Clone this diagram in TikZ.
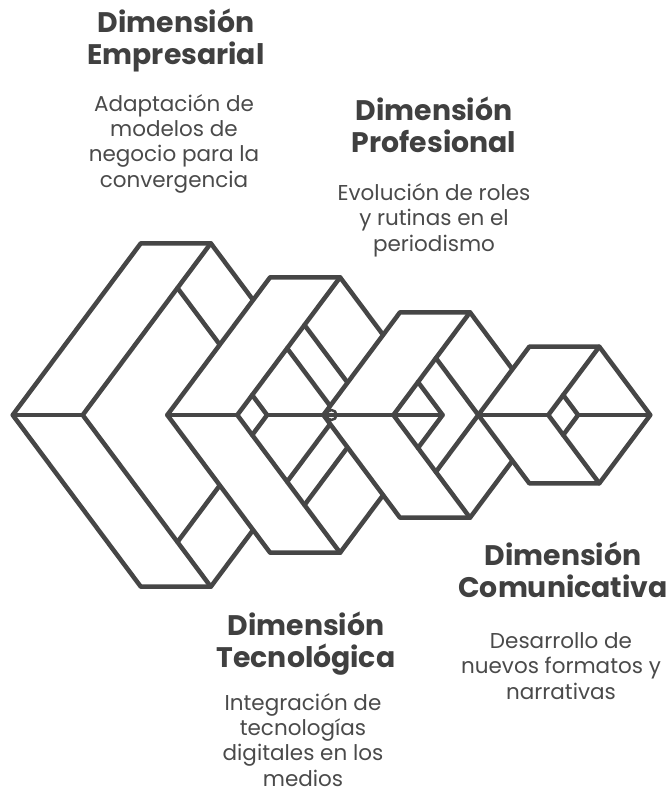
\documentclass[tikz,border=0pt]{standalone}
\usepackage{fontspec}
\setmainfont{Poppins}
\definecolor{linegray}{HTML}{464646}
\definecolor{titlegray}{HTML}{404040}
\definecolor{bodygray}{HTML}{4A4A4A}
\begin{document}
\begin{tikzpicture}[x=1pt,y=-1pt,
  face/.style={fill=white, draw=linegray, line width=4.5pt, line join=round},
  edge/.style={draw=linegray, line width=4.5pt, line join=round, line cap=round},
  title/.style={font=\fontsize{28.3}{32}\selectfont\bfseries, text=titlegray, align=center, inner sep=0pt, anchor=base},
  body/.style={font=\fontsize{21.5}{25.3}\selectfont, text=bodygray, align=center, inner sep=0pt, anchor=base}]
\useasboundingbox (0,0) rectangle (672,793);

% ---- block 1 (largest) ----
\coordinate (s1L)  at (12.7,415);
\coordinate (s1TL) at (140.8,243.3);
\coordinate (s1TR) at (210.8,243.3);
\coordinate (s1R)  at (338.9,415);
\coordinate (s1BR) at (210.8,586.7);
\coordinate (s1BL) at (140.8,586.7);
\coordinate (s1C)  at (82.7,415);
\coordinate (s1P)  at (177.5,288);
\coordinate (s1V)  at (272.3,415);
\coordinate (s1Pb) at (177.5,542);
\path[face] (s1L) -- (s1TL) -- (s1TR) -- (s1R) -- (s1BR) -- (s1BL) -- cycle;
\draw[edge] (s1L) -- (s1C);
\draw[edge] (s1TR) -- (s1C) -- (s1BR);
\draw[edge] (s1P) -- (s1V) -- (s1Pb);

% ---- block 2 ----
\coordinate (s2L)  at (167.3,415);
\coordinate (s2TL) at (270.1,277.3);
\coordinate (s2TR) at (340.1,277.3);
\coordinate (s2R)  at (442.9,415);
\coordinate (s2BR) at (340.1,552.7);
\coordinate (s2BL) at (270.1,552.7);
\coordinate (s2C)  at (237.3,415);
\coordinate (s2Dt) at (252.2,395);
\coordinate (s2Dr) at (267.1,415);
\coordinate (s2Db) at (252.2,435);
\coordinate (s2Q)  at (287.1,348.3);
\coordinate (s2VQ) at (336.9,415);
\coordinate (s2Qb) at (287.1,481.7);
\coordinate (s2P)  at (304.5,325);
\coordinate (s2VP) at (371.7,415);
\coordinate (s2Pb) at (304.5,505);
\path[face] (s2L) -- (s2TL) -- (s2TR) -- (s2R) -- (s2BR) -- (s2BL) -- cycle;
\draw[edge] (s2L) -- (s2C);
\draw[edge] (s2TR) -- (s2C) -- (s2BR);
\draw[edge] (s2Dt) -- (s2Dr) -- (s2Db);
\draw[edge] (s2Dr) -- (s2R);
\draw[edge] (s2Q) -- (s2VQ) -- (s2Qb);
\draw[edge] (s2P) -- (s2VP) -- (s2Pb);

% ---- block 3 ----
\coordinate (s3L)  at (323.4,415);
\coordinate (s3TL) at (400,312.3);
\coordinate (s3TR) at (470,312.3);
\coordinate (s3R)  at (546.6,415);
\coordinate (s3BR) at (470,517.7);
\coordinate (s3BL) at (400,517.7);
\coordinate (s3C)  at (393.4,415);
\coordinate (s3A)  at (418,382);
\coordinate (s3Va) at (442.6,415);
\coordinate (s3Ab) at (418,448);
\coordinate (s3B)  at (435.9,358.1);
\coordinate (s3Vb) at (478.3,415);
\coordinate (s3Bb) at (435.9,471.9);
\path[face] (s3L) -- (s3TL) -- (s3TR) -- (s3R) -- (s3BR) -- (s3BL) -- cycle;
\draw[edge] (s3L) -- (s3Va);
\draw[edge] (s3TR) -- (s3C) -- (s3BR);
\draw[edge] (s3A) -- (s3Va) -- (s3Ab);
\draw[edge] (s3B) -- (s3Vb) -- (s3Bb);
\draw[linegray, line width=2.5pt] (331.5,415) circle (5pt);

% ---- block 4 (smallest) ----
\coordinate (s4L)  at (478.3,415);
\coordinate (s4TL) at (529.3,346.7);
\coordinate (s4TR) at (599.3,346.7);
\coordinate (s4R)  at (650.3,415);
\coordinate (s4BR) at (599.3,483.3);
\coordinate (s4BL) at (529.3,483.3);
\coordinate (s4C)  at (548.3,415);
\coordinate (s4Dt) at (563.2,395);
\coordinate (s4Dr) at (578.1,415);
\coordinate (s4Db) at (563.2,435);
\path[face] (s4L) -- (s4TL) -- (s4TR) -- (s4R) -- (s4BR) -- (s4BL) -- cycle;
\draw[edge] (s4L) -- (s4C);
\draw[edge] (s4TR) -- (s4C) -- (s4BR);
\draw[edge] (s4Dt) -- (s4Dr) -- (s4Db);
\draw[edge] (s4Dr) -- (s4R);

% ---- labels (anchored at the baseline of their last line) ----
\node[title] (tEmp) at (176,64) {Dimensión\\Empresarial};
\node[body]  (bEmp) at (174,187) {Adaptación de\\modelos de\\negocio para la\\convergencia};
\node[title] (tPro) at (434,152) {Dimensión\\Profesional};
\node[body]  (bPro) at (434,251) {Evolución de roles\\y rutinas en el\\periodismo};
\node[title] (tTec) at (306,667) {Dimensión\\Tecnológica};
\node[body]  (bTec) at (303,786) {Integración de\\tecnologías\\digitales en los\\medios};
\node[title] (tCom) at (563,597) {Dimensión\\Comunicativa};
\node[body]  (bCom) at (561,699) {Desarrollo de\\nuevos formatos y\\narrativas};
\end{tikzpicture}
\end{document}
